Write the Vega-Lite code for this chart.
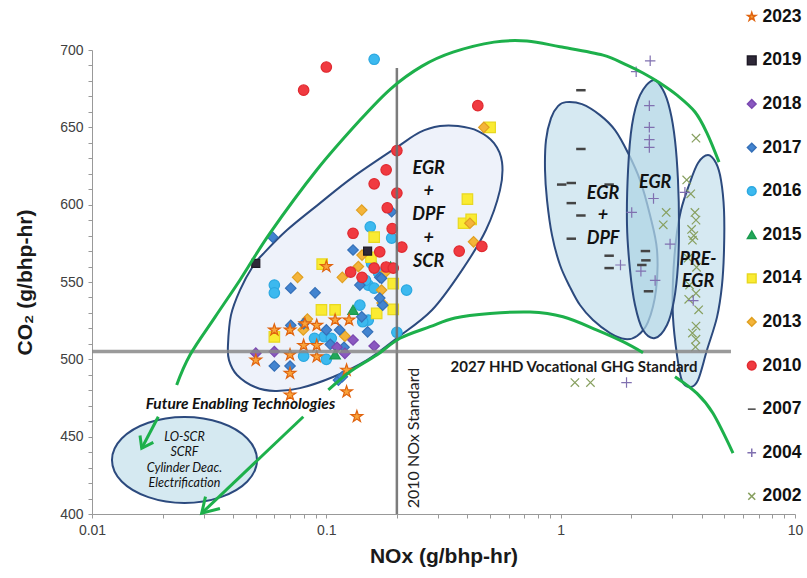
{
"$schema": "https://vega.github.io/schema/vega-lite/v6.json",
"width": 703, "height": 464,
"autosize": {"type": "none"},
"padding": {"left": 92, "top": 50, "right": 12, "bottom": 64},
"config": {"view": {"stroke": null}, "font": "Liberation Sans"},
"datasets": {
"pts": [
{"x":3.78,"y":643,"year":"2002"},{"x":3.45,"y":616,"year":"2002"},{"x":3.59,"y":607,"year":"2002"},{"x":2.82,"y":595,"year":"2002"},{"x":3.74,"y":595,"year":"2002"},{"x":3.78,"y":590,"year":"2002"},{"x":3.62,"y":584,"year":"2002"},{"x":3.65,"y":577,"year":"2002"},{"x":2.74,"y":587,"year":"2002"},{"x":3.5,"y":565.5,"year":"2002"},{"x":3.8,"y":559.5,"year":"2002"},{"x":3.78,"y":542.7,"year":"2002"},{"x":3.52,"y":538.8,"year":"2002"},{"x":3.88,"y":532,"year":"2002"},{"x":3.78,"y":521.5,"year":"2002"},{"x":3.65,"y":517,"year":"2002"},{"x":3.78,"y":513,"year":"2002"},{"x":3.76,"y":508,"year":"2002"},{"x":1.15,"y":485,"year":"2002"},{"x":1.34,"y":485,"year":"2002"},{"x":3.7,"y":580,"year":"2002"},{"x":3.55,"y":548,"year":"2002"},
{"x":2.41,"y":693,"year":"2004"},{"x":2.1,"y":686,"year":"2004"},{"x":2.39,"y":664,"year":"2004"},{"x":2.39,"y":650,"year":"2004"},{"x":2.39,"y":642,"year":"2004"},{"x":2.39,"y":637,"year":"2004"},{"x":2.49,"y":604,"year":"2004"},{"x":2.01,"y":595,"year":"2004"},{"x":3.39,"y":608,"year":"2004"},{"x":2.93,"y":574.5,"year":"2004"},{"x":1.8,"y":561,"year":"2004"},{"x":2.2,"y":557,"year":"2004"},{"x":2.53,"y":551,"year":"2004"},{"x":1.91,"y":485,"year":"2004"},{"x":3.68,"y":538,"year":"2004"},
{"x":1.22,"y":674,"year":"2007"},{"x":1.22,"y":636,"year":"2007"},{"x":1.01,"y":613,"year":"2007"},{"x":1.11,"y":614,"year":"2007"},{"x":1.11,"y":601,"year":"2007"},{"x":1.22,"y":593,"year":"2007"},{"x":1.11,"y":578,"year":"2007"},{"x":1.61,"y":613,"year":"2007"},{"x":1.61,"y":567,"year":"2007"},{"x":1.61,"y":559,"year":"2007"},{"x":2.22,"y":561,"year":"2007"},{"x":2.3,"y":570,"year":"2007"},{"x":2.31,"y":564,"year":"2007"},{"x":2.37,"y":544,"year":"2007"},
{"x":0.16,"y":694,"year":"2016"},{"x":0.154,"y":585.7,"year":"2016"},{"x":0.19,"y":578.4,"year":"2016"},{"x":0.06,"y":548,"year":"2016"},{"x":0.06,"y":543,"year":"2016"},{"x":0.08,"y":502,"year":"2016"},{"x":0.1,"y":500,"year":"2016"},{"x":0.098,"y":514.6,"year":"2016"},{"x":0.105,"y":513.6,"year":"2016"},{"x":0.089,"y":513.6,"year":"2016"},{"x":0.139,"y":535,"year":"2016"},{"x":0.151,"y":525.4,"year":"2016"},{"x":0.143,"y":524.3,"year":"2016"},{"x":0.22,"y":544.8,"year":"2016"},{"x":0.2,"y":517.5,"year":"2016"},{"x":0.151,"y":548,"year":"2016"},{"x":0.147,"y":551,"year":"2016"},{"x":0.167,"y":556,"year":"2016"},{"x":0.156,"y":562,"year":"2016"},{"x":0.16,"y":546,"year":"2016"},
{"x":0.16,"y":579,"year":"2014"},{"x":0.4,"y":603.6,"year":"2014"},{"x":0.385,"y":588,"year":"2014"},{"x":0.415,"y":590.5,"year":"2014"},{"x":0.5,"y":650,"year":"2014"},{"x":0.0953,"y":532,"year":"2014"},{"x":0.109,"y":532,"year":"2014"},{"x":0.193,"y":549,"year":"2014"},{"x":0.193,"y":532.3,"year":"2014"},{"x":0.164,"y":529.7,"year":"2014"},{"x":0.06,"y":514.5,"year":"2014"},{"x":0.096,"y":561.5,"year":"2014"},{"x":0.155,"y":566,"year":"2014"},
{"x":0.47,"y":650,"year":"2013"},{"x":0.41,"y":588,"year":"2013"},{"x":0.425,"y":576,"year":"2013"},{"x":0.1416,"y":596.5,"year":"2013"},{"x":0.117,"y":553,"year":"2013"},{"x":0.142,"y":567.4,"year":"2013"},{"x":0.0754,"y":553,"year":"2013"},{"x":0.172,"y":544.8,"year":"2013"},{"x":0.0797,"y":519,"year":"2013"},{"x":0.12,"y":515,"year":"2013"},{"x":0.137,"y":560,"year":"2013"},{"x":0.178,"y":556,"year":"2013"},{"x":0.173,"y":536.4,"year":"2013"},{"x":0.083,"y":526,"year":"2013"},
{"x":0.059,"y":579,"year":"2017"},{"x":0.19,"y":595.4,"year":"2017"},{"x":0.13,"y":570.7,"year":"2017"},{"x":0.169,"y":553,"year":"2017"},{"x":0.0705,"y":546,"year":"2017"},{"x":0.139,"y":548,"year":"2017"},{"x":0.0895,"y":543,"year":"2017"},{"x":0.0705,"y":522,"year":"2017"},{"x":0.08,"y":523,"year":"2017"},{"x":0.1,"y":519,"year":"2017"},{"x":0.15,"y":517.8,"year":"2017"},{"x":0.172,"y":552.4,"year":"2017"},{"x":0.06,"y":495.7,"year":"2017"},{"x":0.07,"y":495.7,"year":"2017"},{"x":0.119,"y":507.8,"year":"2017"},{"x":0.104,"y":509.7,"year":"2017"},{"x":0.1416,"y":527.5,"year":"2017"},{"x":0.174,"y":535,"year":"2017"},{"x":0.169,"y":539.6,"year":"2017"},{"x":0.114,"y":519,"year":"2017"},{"x":0.1126,"y":486.6,"year":"2017"},{"x":0.117,"y":488.8,"year":"2017"},
{"x":0.05,"y":504,"year":"2018"},{"x":0.06,"y":505,"year":"2018"},{"x":0.111,"y":507.8,"year":"2018"},{"x":0.13,"y":512.5,"year":"2018"},{"x":0.16,"y":508.6,"year":"2018"},{"x":0.12,"y":503.9,"year":"2018"},
{"x":0.13,"y":532,"year":"2015"},{"x":0.109,"y":503.2,"year":"2015"},{"x":0.188,"y":560,"year":"2015"},
{"x":0.08,"y":674,"year":"2010"},{"x":0.1,"y":689,"year":"2010"},{"x":0.443,"y":664,"year":"2010"},{"x":0.2,"y":635,"year":"2010"},{"x":0.18,"y":622.5,"year":"2010"},{"x":0.16,"y":613.5,"year":"2010"},{"x":0.2,"y":607.5,"year":"2010"},{"x":0.182,"y":598,"year":"2010"},{"x":0.191,"y":584.5,"year":"2010"},{"x":0.13,"y":581.5,"year":"2010"},{"x":0.21,"y":572.6,"year":"2010"},{"x":0.169,"y":569.5,"year":"2010"},{"x":0.127,"y":556.4,"year":"2010"},{"x":0.142,"y":553,"year":"2010"},{"x":0.16,"y":559,"year":"2010"},{"x":0.18,"y":559.7,"year":"2010"},{"x":0.193,"y":559,"year":"2010"},{"x":0.369,"y":570,"year":"2010"},{"x":0.461,"y":573,"year":"2010"},
{"x":0.05,"y":562,"year":"2019"},{"x":0.15,"y":570,"year":"2019"},
{"x":0.05,"y":499.5,"year":"2023"},{"x":0.06,"y":519,"year":"2023"},{"x":0.07,"y":519,"year":"2023"},{"x":0.081,"y":523,"year":"2023"},{"x":0.091,"y":522,"year":"2023"},{"x":0.109,"y":525.4,"year":"2023"},{"x":0.125,"y":525.4,"year":"2023"},{"x":0.07,"y":503,"year":"2023"},{"x":0.08,"y":509,"year":"2023"},{"x":0.091,"y":509,"year":"2023"},{"x":0.091,"y":501.7,"year":"2023"},{"x":0.07,"y":491,"year":"2023"},{"x":0.07,"y":477,"year":"2023"},{"x":0.1,"y":560,"year":"2023"},{"x":0.122,"y":493,"year":"2023"},{"x":0.122,"y":479,"year":"2023"},{"x":0.135,"y":463,"year":"2023"}
],
"ell": [
{"id":"big","i":0,"x":0.03804,"y":509.2},{"id":"big","i":1,"x":0.03918,"y":528.6},{"id":"big","i":2,"x":0.04281,"y":544.8},{"id":"big","i":3,"x":0.04866,"y":560.3},{"id":"big","i":4,"x":0.05368,"y":568.1},{"id":"big","i":5,"x":0.06796,"y":583.6},{"id":"big","i":6,"x":0.09397,"y":601.0},{"id":"big","i":7,"x":0.1299,"y":617.8},{"id":"big","i":8,"x":0.2003,"y":637.2},{"id":"big","i":9,"x":0.251,"y":646.9},{"id":"big","i":10,"x":0.3056,"y":650.8},{"id":"big","i":11,"x":0.3647,"y":650.8},{"id":"big","i":12,"x":0.4438,"y":647.6},{"id":"big","i":13,"x":0.5194,"y":639.8},{"id":"big","i":14,"x":0.562,"y":627.5},{"id":"big","i":15,"x":0.5509,"y":609.4},{"id":"big","i":16,"x":0.48,"y":583.6},{"id":"big","i":17,"x":0.3793,"y":557.7},{"id":"big","i":18,"x":0.2825,"y":531.9},{"id":"big","i":19,"x":0.2003,"y":513.8},{"id":"big","i":20,"x":0.1491,"y":499.5},{"id":"big","i":21,"x":0.1068,"y":488.6},{"id":"big","i":22,"x":0.0772,"y":481.4},{"id":"big","i":23,"x":0.06039,"y":479.5},{"id":"big","i":24,"x":0.04962,"y":482.1},{"id":"big","i":25,"x":0.04157,"y":489.9},{"id":"big","i":26,"x":0.03842,"y":499.5},
{"id":"small","i":0,"x":0.05059,"y":434.9},{"id":"small","i":1,"x":0.046,"y":448.8},{"id":"small","i":2,"x":0.03545,"y":459.0},{"id":"small","i":3,"x":0.02482,"y":462.7},{"id":"small","i":4,"x":0.01739,"y":459.0},{"id":"small","i":5,"x":0.01339,"y":448.8},{"id":"small","i":6,"x":0.01217,"y":434.9},{"id":"small","i":7,"x":0.01339,"y":421.0},{"id":"small","i":8,"x":0.01739,"y":410.9},{"id":"small","i":9,"x":0.02482,"y":407.1},{"id":"small","i":10,"x":0.03545,"y":410.9},{"id":"small","i":11,"x":0.046,"y":421.0},
{"id":"A","i":0,"x":1.054,"y":666.3},{"id":"A","i":1,"x":1.233,"y":665.0},{"id":"A","i":2,"x":1.472,"y":657.9},{"id":"A","i":3,"x":1.706,"y":648.2},{"id":"A","i":4,"x":1.939,"y":633.4},{"id":"A","i":5,"x":2.181,"y":615.9},{"id":"A","i":6,"x":2.405,"y":593.3},{"id":"A","i":7,"x":2.577,"y":570.7},{"id":"A","i":8,"x":2.552,"y":544.8},{"id":"A","i":9,"x":2.358,"y":524.1},{"id":"A","i":10,"x":2.118,"y":515.1},{"id":"A","i":11,"x":1.882,"y":513.1},{"id":"A","i":12,"x":1.624,"y":517.0},{"id":"A","i":13,"x":1.374,"y":525.4},{"id":"A","i":14,"x":1.209,"y":535.1},{"id":"A","i":15,"x":1.096,"y":546.7},{"id":"A","i":16,"x":0.9936,"y":561.0},{"id":"A","i":17,"x":0.9184,"y":580.3},{"id":"A","i":18,"x":0.8744,"y":603.0},{"id":"A","i":19,"x":0.8574,"y":622.4},{"id":"A","i":20,"x":0.8657,"y":641.8},{"id":"A","i":21,"x":0.9095,"y":656.0},{"id":"A","i":22,"x":0.9741,"y":663.7},
{"id":"B","i":0,"x":2.479,"y":680.5},{"id":"B","i":1,"x":2.734,"y":674.1},{"id":"B","i":2,"x":2.929,"y":661.1},{"id":"B","i":3,"x":3.075,"y":641.8},{"id":"B","i":4,"x":3.167,"y":615.9},{"id":"B","i":5,"x":3.199,"y":586.8},{"id":"B","i":6,"x":3.167,"y":561.0},{"id":"B","i":7,"x":3.046,"y":538.3},{"id":"B","i":8,"x":2.843,"y":522.2},{"id":"B","i":9,"x":2.528,"y":513.8},{"id":"B","i":10,"x":2.246,"y":518.9},{"id":"B","i":11,"x":2.076,"y":535.1},{"id":"B","i":12,"x":1.977,"y":557.7},{"id":"B","i":13,"x":1.919,"y":586.8},{"id":"B","i":14,"x":1.939,"y":622.4},{"id":"B","i":15,"x":2.016,"y":651.5},{"id":"B","i":16,"x":2.181,"y":670.8},
{"id":"C","i":0,"x":4.254,"y":632.1},{"id":"C","i":1,"x":4.602,"y":626.9},{"id":"C","i":2,"x":4.833,"y":615.9},{"id":"C","i":3,"x":4.978,"y":596.5},{"id":"C","i":4,"x":4.978,"y":570.7},{"id":"C","i":5,"x":4.88,"y":548.0},{"id":"C","i":6,"x":4.647,"y":527.3},{"id":"C","i":7,"x":4.211,"y":506.0},{"id":"C","i":8,"x":3.856,"y":486.6},{"id":"C","i":9,"x":3.565,"y":482.1},{"id":"C","i":10,"x":3.295,"y":486.0},{"id":"C","i":11,"x":3.136,"y":502.8},{"id":"C","i":12,"x":3.015,"y":527.3},{"id":"C","i":13,"x":3.015,"y":551.3},{"id":"C","i":14,"x":3.106,"y":577.1},{"id":"C","i":15,"x":3.263,"y":596.5},{"id":"C","i":16,"x":3.53,"y":612.7},{"id":"C","i":17,"x":3.856,"y":626.9}
],
"curves": [
{"id":"arc","i":0,"x":0.02298,"y":483.4},{"id":"arc","i":1,"x":0.02619,"y":502.8},{"id":"arc","i":2,"x":0.03349,"y":527.3},{"id":"arc","i":3,"x":0.04281,"y":551.3},{"id":"arc","i":4,"x":0.0575,"y":581.6},{"id":"arc","i":5,"x":0.091,"y":622.4},{"id":"arc","i":6,"x":0.1393,"y":654.7},{"id":"arc","i":7,"x":0.1888,"y":675.1},{"id":"arc","i":8,"x":0.2561,"y":689.6},{"id":"arc","i":9,"x":0.3472,"y":698.6},{"id":"arc","i":10,"x":0.5193,"y":705.1},{"id":"arc","i":11,"x":0.7183,"y":705.8},{"id":"arc","i":12,"x":0.9936,"y":702.1},{"id":"arc","i":13,"x":1.516,"y":696.7},{"id":"arc","i":14,"x":1.919,"y":690.2},{"id":"arc","i":15,"x":2.246,"y":685.1},{"id":"arc","i":16,"x":2.654,"y":678.6},{"id":"arc","i":17,"x":3.136,"y":670.8},{"id":"arc","i":18,"x":3.744,"y":659.9},{"id":"arc","i":19,"x":4.211,"y":646.3},{"id":"arc","i":20,"x":4.74,"y":627.5},
{"id":"low1","i":0,"x":0.102,"y":480.2},{"id":"low1","i":1,"x":0.1262,"y":492.0},{"id":"low1","i":2,"x":0.1641,"y":502.8},{"id":"low1","i":3,"x":0.2063,"y":513.6},{"id":"low1","i":4,"x":0.277,"y":521.1},{"id":"low1","i":5,"x":0.354,"y":526.7},{"id":"low1","i":6,"x":0.4995,"y":529.6},{"id":"low1","i":7,"x":0.7401,"y":530.6},{"id":"low1","i":8,"x":1.023,"y":527.5},{"id":"low1","i":9,"x":1.429,"y":518.9},{"id":"low1","i":10,"x":1.845,"y":511.4},{"id":"low1","i":11,"x":2.246,"y":504.3},
{"id":"low2","i":0,"x":3.075,"y":488.8},{"id":"low2","i":1,"x":3.817,"y":478.0},{"id":"low2","i":2,"x":4.467,"y":465.1},{"id":"low2","i":3,"x":5.438,"y":439.4}
],
"arrows": [
{"id":"a1","i":0,"x":0.01918,"y":462.9},{"id":"a1","i":1,"x":0.0163,"y":442.5},
{"id":"a1h","i":0,"x":0.01603,"y":450.8},{"id":"a1h","i":1,"x":0.0163,"y":442.5},{"id":"a1h","i":2,"x":0.01827,"y":446.3},
{"id":"a2","i":0,"x":0.07973,"y":462.9},{"id":"a2","i":1,"x":0.02938,"y":400.5},
{"id":"a2h","i":0,"x":0.0305,"y":411.2},{"id":"a2h","i":1,"x":0.02938,"y":400.5},{"id":"a2h","i":2,"x":0.03516,"y":403.6}
]
},
"encoding": {
"x": {"field": "x", "type": "quantitative", "scale": {"type": "log", "domain": [0.01, 10]},
 "axis": {"title": "NOx (g/bhp-hr)", "titleFontSize": 21, "titleFontWeight": "bold", "titleColor": "#1a1a1a", "titlePadding": 8,
  "values": [0.01,0.02,0.03,0.04,0.05,0.06,0.07,0.08,0.09,0.1,0.2,0.3,0.4,0.5,0.6,0.7,0.8,0.9,1,2,3,4,5,6,7,8,9,10],
  "labelExpr": "datum.value==0.01?'0.01':datum.value==0.1?'0.1':datum.value==1?'1':datum.value==10?'10':''",
  "labelFontSize": 14, "labelColor": "#404040", "labelFlush": false, "labelOverlap": false, "labelPadding": 5,
  "tickSize": 4, "tickColor": "#999999", "domainColor": "#999999", "grid": false}},
"y": {"field": "y", "type": "quantitative", "scale": {"domain": [400, 700], "zero": false, "nice": false},
 "axis": {"title": "CO₂ (g/bhp-hr)", "titleFontSize": 21, "titleFontWeight": "bold", "titleColor": "#1a1a1a", "titlePadding": 24,
  "values": [400,410,420,430,440,450,460,470,480,490,500,510,520,530,540,550,560,570,580,590,600,610,620,630,640,650,660,670,680,690,700],
  "labelExpr": "datum.value % 50 == 0 ? '' + datum.value : ''",
  "labelFontSize": 14, "labelColor": "#404040", "labelOverlap": false, "labelPadding": 5,
  "tickSize": 4, "tickColor": "#999999", "domainColor": "#999999", "grid": false}}
},
"layer": [
{"data": {"name": "ell"}, "transform": [{"filter": "datum.id=='big'"}],
 "mark": {"type": "line", "interpolate": "cardinal-closed", "fill": "#EEF2FA", "stroke": "#2C4A7E", "strokeWidth": 2},
 "encoding": {"detail": {"field": "id"}, "order": {"field": "i", "type": "quantitative"}}},
{"data": {"name": "ell"}, "transform": [{"filter": "datum.id=='small'"}],
 "mark": {"type": "line", "interpolate": "cardinal-closed", "fill": "#D5E9F1", "stroke": "#2C4A7E", "strokeWidth": 2},
 "encoding": {"detail": {"field": "id"}, "order": {"field": "i", "type": "quantitative"}}},
{"data": {"name": "ell"}, "transform": [{"filter": "datum.id=='A' || datum.id=='C'"}],
 "mark": {"type": "line", "interpolate": "cardinal-closed", "fill": "#C4E0EC", "fillOpacity": 0.7, "stroke": "#2C4A7E", "strokeWidth": 2},
 "encoding": {"detail": {"field": "id"}, "order": {"field": "i", "type": "quantitative"}}},
{"data": {"name": "ell"}, "transform": [{"filter": "datum.id=='B'"}],
 "mark": {"type": "line", "interpolate": "cardinal-closed", "fill": "#AFD4E4", "fillOpacity": 0.75, "stroke": "#2C4A7E", "strokeWidth": 2},
 "encoding": {"detail": {"field": "id"}, "order": {"field": "i", "type": "quantitative"}}},
{"data": {"name": "pts"},
 "mark": {"type": "point", "filled": true, "opacity": 1},
 "encoding": {
  "shape": {"field": "year", "type": "nominal", "title": "Year",
   "scale": {"domain": ["2023","2019","2018","2017","2016","2015","2014","2013","2010","2007","2004","2002"],
    "range": ["M0,-1L0.2245,-0.309L0.951,-0.309L0.363,0.118L0.588,0.809L0,0.382L-0.588,0.809L-0.363,0.118L-0.951,-0.309L-0.2245,-0.309Z","square","diamond","diamond","circle","triangle-up","square","diamond","circle","M-0.9,0H0.9","M-1,0H1M0,-1V1","M-0.8,-0.8L0.8,0.8M-0.8,0.8L0.8,-0.8"]},
   "legend": {"orient": "none", "legendX": 651, "legendY": -42, "title": null, "labelFontSize": 17.5, "labelFontWeight": "bold", "labelColor": "#111111", "symbolSize": 75, "rowPadding": 24.6, "labelOffset": 2, "symbolStrokeWidth": 1.5}},
  "fill": {"field": "year", "type": "nominal", "title": "Year",
   "scale": {"domain": ["2023","2019","2018","2017","2016","2015","2014","2013","2010","2007","2004","2002"],
    "range": ["#F9A33A","#2E2838","#8A58C0","#4284D0","#3CB9EF","#22A85A","#FAEB32","#F4B43A","#F03A40","#444444","#8B7AB8","#93AD6B"]},
   "legend": {"orient": "none", "legendX": 651, "legendY": -42, "title": null, "labelFontSize": 17.5, "labelFontWeight": "bold", "labelColor": "#111111", "symbolSize": 75, "rowPadding": 24.6, "labelOffset": 2, "symbolStrokeWidth": 1.5}},
  "stroke": {"field": "year", "type": "nominal", "title": "Year",
   "scale": {"domain": ["2023","2019","2018","2017","2016","2015","2014","2013","2010","2007","2004","2002"],
    "range": ["#E0640F","#1E1A26","#7A48B0","#3570B8","#2CA8E0","#1A9A4E","#E8D820","#E0A020","#E02A30","#444444","#8070B0","#88A060"]},
   "legend": {"orient": "none", "legendX": 651, "legendY": -42, "title": null, "labelFontSize": 17.5, "labelFontWeight": "bold", "labelColor": "#111111", "symbolSize": 75, "rowPadding": 24.6, "labelOffset": 2, "symbolStrokeWidth": 1.5}},
  "size": {"condition": [{"test": "datum.year==='2023'", "value": 150}, {"test": "datum.year==='2019'", "value": 64}], "value": 110},
  "strokeWidth": {"condition": {"test": "datum.year==='2007'", "value": 2.5}, "value": 1.2}
 }},
{"data": {"values": [{"x": 0.2, "y": 400, "y2": 688.3}]},
 "mark": {"type": "rule", "color": "#6E6E6E", "strokeWidth": 2.5, "opacity": 0.9},
 "encoding": {"y2": {"field": "y2"}}},
{"data": {"values": [{"x": 0.01, "x2": 5.33, "y": 505}]},
 "mark": {"type": "rule", "color": "#888888", "strokeWidth": 3.5, "opacity": 0.85},
 "encoding": {"x2": {"field": "x2"}}},
{"data": {"name": "curves"},
 "mark": {"type": "line", "interpolate": "cardinal", "color": "#1DB04B", "strokeWidth": 3},
 "encoding": {"detail": {"field": "id"}, "order": {"field": "i", "type": "quantitative"}}},
{"data": {"name": "arrows"},
 "mark": {"type": "line", "color": "#1DB04B", "strokeWidth": 3},
 "encoding": {"detail": {"field": "id"}, "order": {"field": "i", "type": "quantitative"}}},
{"data": {"values": [{"x": 0.2734, "y": 623.1, "t": "EGR\n+\nDPF\n+\nSCR"}]},
 "mark": {"type": "text", "font": "Lato", "fontSize": 18, "fontWeight": "bold", "fontStyle": "italic", "lineBreak": "\n", "lineHeight": 23.2, "align": "center", "baseline": "middle", "color": "#111111"},
 "encoding": {"text": {"field": "t"}}},
{"data": {"values": [{"x": 1.516, "y": 607.2, "t": "EGR\n+\nDPF"}, {"x": 2.532, "y": 613.8, "t": "EGR"}, {"x": 3.855, "y": 564.3, "t": "PRE-\nEGR"}]},
 "mark": {"type": "text", "font": "Lato", "fontSize": 18, "fontWeight": "bold", "fontStyle": "italic", "lineBreak": "\n", "lineHeight": 22.5, "align": "center", "baseline": "middle", "color": "#111111"},
 "encoding": {"text": {"field": "t"}}},
{"data": {"values": [{"x": 0.0248, "y": 449.9, "t": "LO-SCR\nSCRF\nCylinder Deac.\nElectrification"}]},
 "mark": {"type": "text", "font": "Lato", "fontSize": 12.5, "fontStyle": "italic", "lineBreak": "\n", "lineHeight": 15.4, "align": "center", "baseline": "middle", "color": "#111111"},
 "encoding": {"text": {"field": "t"}}},
{"data": {"values": [{"x": 0.043, "y": 471.1, "t": "Future Enabling Technologies"}]},
 "mark": {"type": "text", "font": "Lato", "fontSize": 15.5, "fontWeight": "bold", "fontStyle": "italic", "align": "center", "baseline": "middle", "color": "#111111"},
 "encoding": {"text": {"field": "t"}}},
{"data": {"values": [{"x": 1.14, "y": 495.0, "t": "2027 HHD Vocational GHG Standard"}]},
 "mark": {"type": "text", "font": "Lato", "fontSize": 15, "fontWeight": "bold", "align": "center", "baseline": "middle", "color": "#1a1a1a"},
 "encoding": {"text": {"field": "t"}}},
{"data": {"values": [{"x": 0.2366, "y": 449.1, "t": "2010 NOx Standard"}]},
 "mark": {"type": "text", "font": "Lato", "fontSize": 16, "angle": 270, "align": "center", "baseline": "middle", "color": "#222222"},
 "encoding": {"text": {"field": "t"}}}
]
}
